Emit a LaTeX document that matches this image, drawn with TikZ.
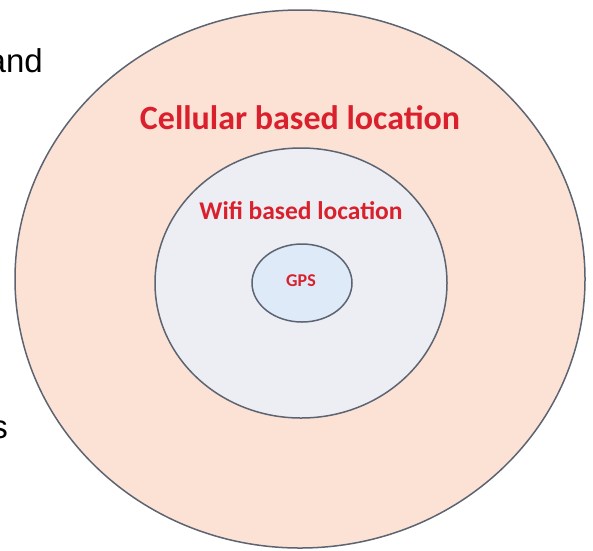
\documentclass[tikz,border=0pt]{standalone}
\usepackage{fontspec}
\setmainfont{Liberation Sans}
\newfontfamily\calfont{Carlito}
\definecolor{ringline}{RGB}{92,100,114}
\definecolor{cellfill}{RGB}{251,226,213}
\definecolor{wififill}{RGB}{236,238,243}
\definecolor{gpsfill}{RGB}{222,234,247}
\definecolor{labelred}{RGB}{218,32,45}
\tikzset{
  ring/.style={draw=ringline, line width=1.5pt},
  ringlabel/.style={anchor=base, inner sep=0pt, text=labelred, font=\calfont\bfseries},
  sidetext/.style={anchor=base east, inner sep=0pt, font=\fontsize{33}{36}\selectfont}
}
\begin{document}
\begin{tikzpicture}[x=1pt,y=-1pt]
\useasboundingbox (0,0) rectangle (593,550);

\filldraw[ring, fill=cellfill] (300,279) ellipse [x radius=285, y radius=269];
\filldraw[ring, fill=wififill] (301,283) ellipse [x radius=146, y radius=135];
\filldraw[ring, fill=gpsfill] (302,283) ellipse [x radius=50, y radius=39];

\node[ringlabel, font=\calfont\bfseries\fontsize{34}{40}\selectfont] (cell) at (300,129) {Cellular based location};
\node[ringlabel, font=\calfont\bfseries\fontsize{25.5}{30}\selectfont] (wifi) at (301,219) {Wifi based location};
\node[ringlabel, font=\calfont\bfseries\fontsize{18}{20}\selectfont] (gps) at (301,286) {GPS};

\node[sidetext] (andword) at (43,72) {and};
\node[sidetext] (sword) at (8,438) {s};

\end{tikzpicture}
\end{document}
